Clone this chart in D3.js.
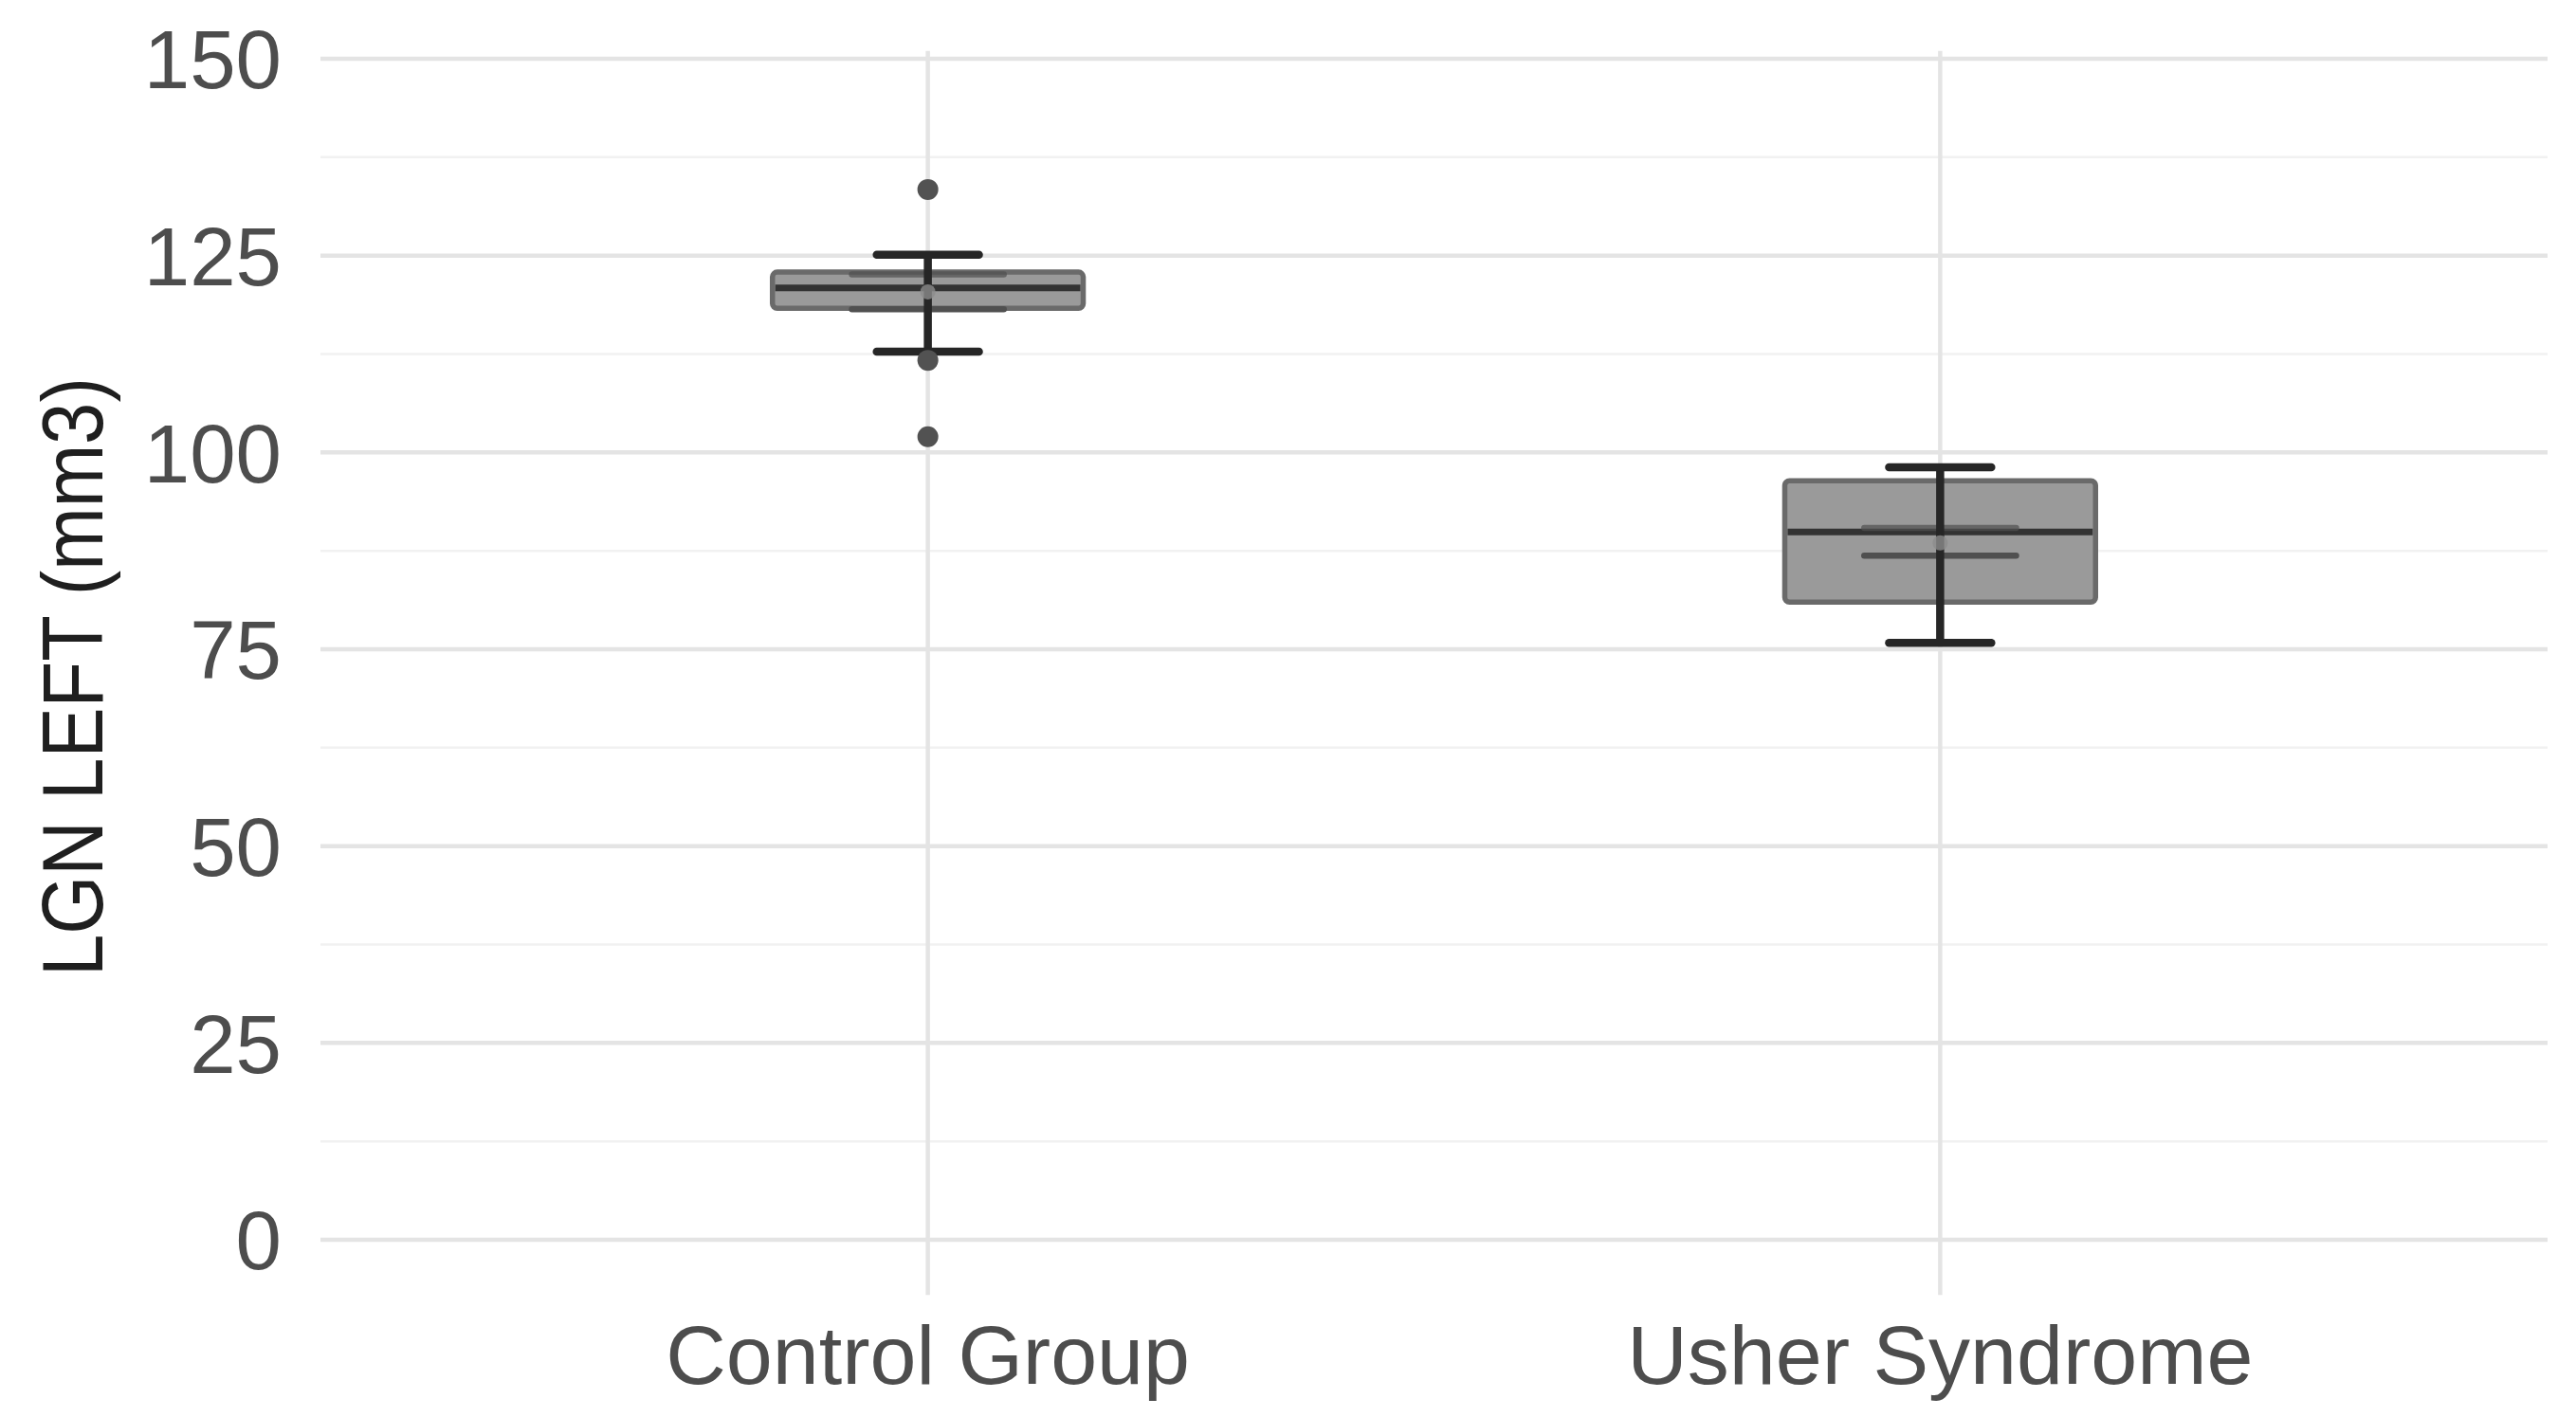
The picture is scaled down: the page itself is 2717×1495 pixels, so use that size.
<!DOCTYPE html>
<html>
<head>
<meta charset="utf-8">
<script src="https://cdn.jsdelivr.net/npm/d3@7"></script>
<style>
  html, body { margin: 0; padding: 0; background: #ffffff; }
  svg { display: block; }
  text { font-family: "Liberation Sans", Arial, Helvetica, sans-serif; }
</style>
</head>
<body>
<svg id="chart" width="2717" height="1495"></svg>
<script>
// ---- data ----
const categories = ["Control Group", "Usher Syndrome"];
const whiskerLow  = [112.8, 75.8];
const q1          = [118.3, 81.0];
const median      = [120.9, 89.9];
const q3          = [122.9, 96.4];
const whiskerHigh = [125.1, 98.1];
const ciLow       = [118.2, 86.9];
const ciHigh      = [122.6, 90.4];
const means       = [120.4, 88.5];
const outliers    = [[133.4, 111.7, 102.0], []];
const yTicks      = [0, 25, 50, 75, 100, 125, 150];
const yMinor      = [12.5, 37.5, 62.5, 87.5, 112.5, 137.5];
const yTitle      = "LGN LEFT (mm3)";

// ---- layout ----
const plotLeft = 338, plotRight = 2687;
const svg = d3.select("#chart");

const y = d3.scaleLinear().domain([0, 150]).range([1308, 62]);
const x = d3.scalePoint().domain(categories).range([plotLeft, plotRight]).padding(0.6);
const step = x.step();
const boxW = step * 0.307, capW = step * 0.101, ciW = step * 0.15;

const groups = categories.map((c, i) => ({
  cat: c, lo: whiskerLow[i], q1: q1[i], med: median[i], q3: q3[i], hi: whiskerHigh[i],
  ciLo: ciLow[i], ciHi: ciHigh[i], mean: means[i], out: outliers[i]
}));

// ---- gridlines ----
const grid = svg.append("g");
grid.selectAll("line.minor").data(yMinor).join("line")
  .attr("x1", plotLeft).attr("x2", plotRight)
  .attr("y1", d => y(d)).attr("y2", d => y(d))
  .attr("stroke", "#f1f1f1").attr("stroke-width", 2.5);
grid.selectAll("line.major").data(yTicks).join("line")
  .attr("x1", plotLeft).attr("x2", plotRight)
  .attr("y1", d => y(d)).attr("y2", d => y(d))
  .attr("stroke", "#e4e4e4").attr("stroke-width", 4.5);
grid.selectAll("line.vert").data(categories).join("line")
  .attr("x1", d => x(d)).attr("x2", d => x(d))
  .attr("y1", y(151)).attr("y2", y(-7))
  .attr("stroke", "#e4e4e4").attr("stroke-width", 4.5);

// ---- y axis labels ----
svg.append("g").selectAll("text").data(yTicks).join("text")
  .attr("x", 297).attr("y", d => y(d))
  .attr("dy", "0.36em")
  .attr("text-anchor", "end")
  .attr("font-size", 87)
  .attr("fill", "#4d4d4d")
  .text(d => d);

// ---- x axis labels ----
svg.append("g").selectAll("text").data(categories).join("text")
  .attr("x", d => x(d)).attr("y", 1460)
  .attr("text-anchor", "middle")
  .attr("font-size", 88)
  .attr("fill", "#4d4d4d")
  .text(d => d);

// ---- y title ----
svg.append("text")
  .attr("transform", "translate(108,714) rotate(-90)")
  .attr("text-anchor", "middle")
  .attr("font-size", 90)
  .attr("textLength", 632)
  .attr("lengthAdjust", "spacingAndGlyphs")
  .attr("fill", "#1f1f1f")
  .text(yTitle);

// ---- boxes ----
const g = svg.append("g").selectAll("g").data(groups).join("g");

g.append("rect")
  .attr("x", d => x(d.cat) - boxW / 2)
  .attr("width", boxW)
  .attr("y", d => y(d.q3))
  .attr("height", d => y(d.q1) - y(d.q3))
  .attr("rx", 5)
  .attr("fill", "#9a9a9a")
  .attr("stroke", "#6a6a6a")
  .attr("stroke-width", 5.5);

g.append("line")
  .attr("x1", d => x(d.cat) - boxW / 2 + 3).attr("x2", d => x(d.cat) + boxW / 2 - 3)
  .attr("y1", d => y(d.med)).attr("y2", d => y(d.med))
  .attr("stroke", "#333333").attr("stroke-width", 7);

// mean CI crossbar lines
g.append("line")
  .attr("x1", d => x(d.cat) - ciW / 2).attr("x2", d => x(d.cat) + ciW / 2)
  .attr("y1", d => y(d.ciLo)).attr("y2", d => y(d.ciLo))
  .attr("stroke", "#505050").attr("stroke-width", 6.5).attr("stroke-linecap", "round");
g.append("line")
  .attr("x1", d => x(d.cat) - ciW / 2).attr("x2", d => x(d.cat) + ciW / 2)
  .attr("y1", d => y(d.ciHi)).attr("y2", d => y(d.ciHi))
  .attr("stroke", "#505050").attr("stroke-width", 6.5).attr("stroke-linecap", "round")
  .attr("opacity", 0.7);

// whiskers
g.append("line")
  .attr("x1", d => x(d.cat)).attr("x2", d => x(d.cat))
  .attr("y1", d => y(d.lo)).attr("y2", d => y(d.hi))
  .attr("stroke", "#262626").attr("stroke-width", 8.5);
g.append("line")
  .attr("x1", d => x(d.cat) - capW / 2).attr("x2", d => x(d.cat) + capW / 2)
  .attr("y1", d => y(d.hi)).attr("y2", d => y(d.hi))
  .attr("stroke", "#262626").attr("stroke-width", 8.5).attr("stroke-linecap", "round");
g.append("line")
  .attr("x1", d => x(d.cat) - capW / 2).attr("x2", d => x(d.cat) + capW / 2)
  .attr("y1", d => y(d.lo)).attr("y2", d => y(d.lo))
  .attr("stroke", "#262626").attr("stroke-width", 8.5).attr("stroke-linecap", "round");

// mean point (faint)
g.append("circle")
  .attr("cx", d => x(d.cat)).attr("cy", d => y(d.mean))
  .attr("r", 8)
  .attr("fill", "#8c8c8c").attr("opacity", 0.8);

// outliers
g.selectAll("circle.out").data(d => d.out.map(v => ({cat: d.cat, v}))).join("circle")
  .attr("class", "out")
  .attr("cx", d => x(d.cat)).attr("cy", d => y(d.v))
  .attr("r", 11)
  .attr("fill", "#525252");
</script>
</body>
</html>
